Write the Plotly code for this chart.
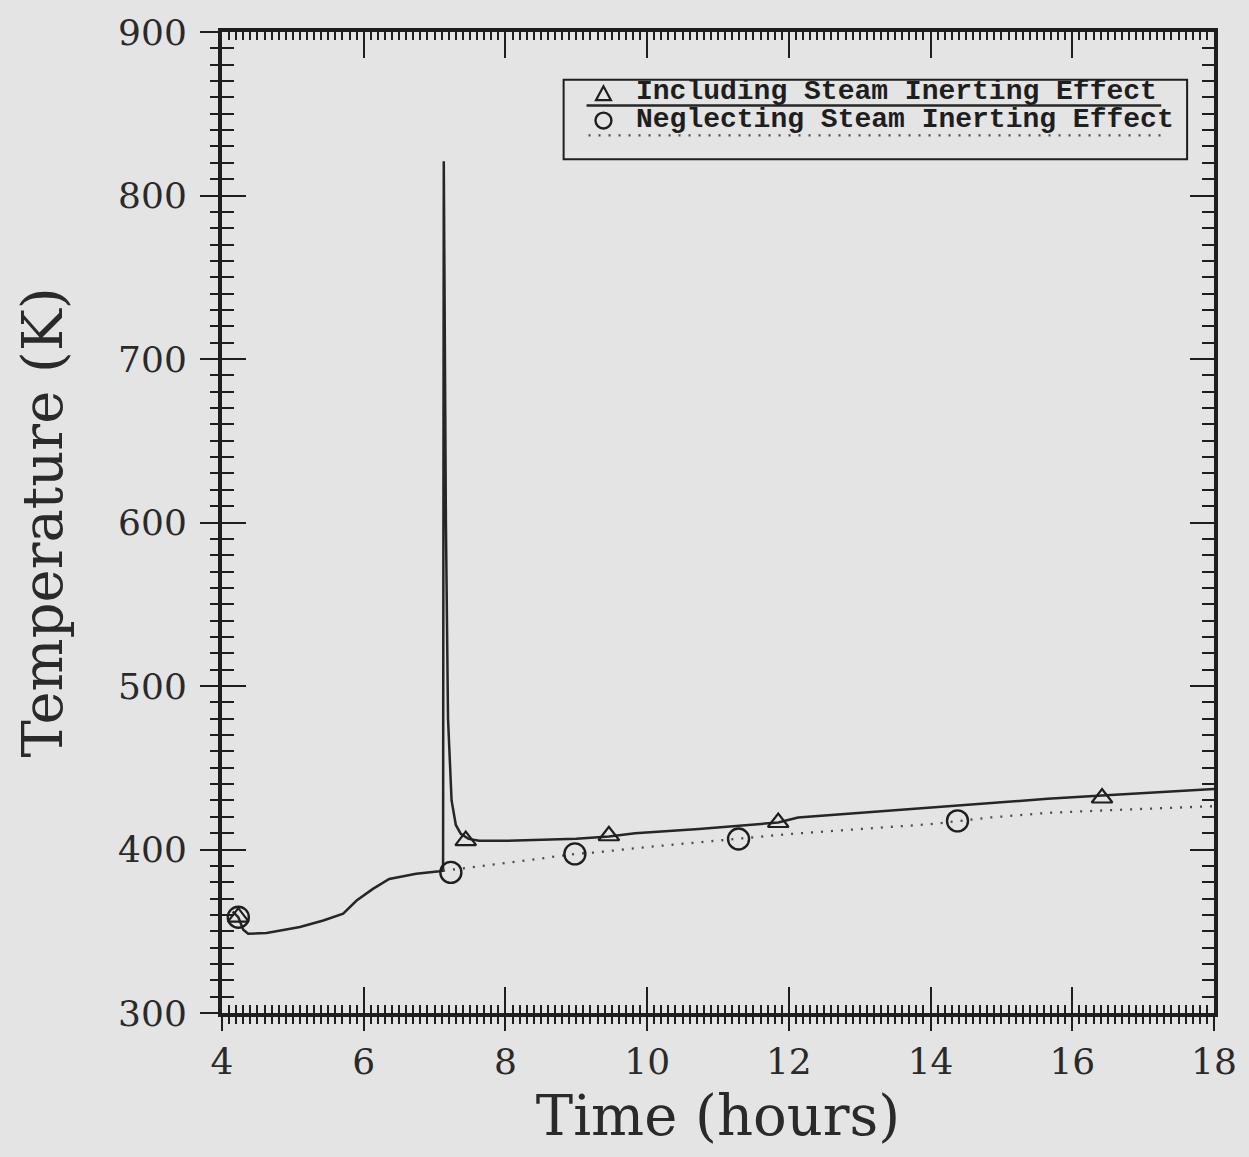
import plotly.graph_objects as go

# ---------------- data ----------------
incl_time = [4.15, 4.23, 4.30, 4.37, 4.63, 5.10, 5.43, 5.71, 5.90, 6.13, 6.36, 6.74, 7.07,
             7.12, 7.13, 7.16, 7.19, 7.24, 7.30, 7.37, 7.48, 7.63, 8.00, 8.50, 9.00, 9.46,
             9.83, 10.73, 11.50, 11.85, 12.13, 13.00, 14.00, 14.95, 15.65, 16.42, 17.20, 18.00]
incl_temp = [362.0, 358.6, 351.0, 348.5, 348.9, 352.6, 356.6, 360.7, 368.8, 375.9, 382.0, 385.1, 386.7,
             387.0, 821.0, 600.0, 480.0, 430.0, 415.0, 409.6, 406.5, 405.4, 405.3, 405.8, 406.5, 408.0,
             410.0, 412.5, 415.0, 416.5, 419.6, 422.5, 425.8, 428.7, 431.0, 433.0, 435.0, 437.0]

negl_time = [7.12, 7.50, 8.00, 8.50, 8.98, 9.27, 10.00, 10.73, 11.29, 11.99, 13.00, 14.00,
             14.85, 15.65, 16.50, 17.69, 18.00]
negl_temp = [387.0, 389.0, 392.0, 394.5, 397.3, 398.2, 401.5, 404.3, 406.4, 409.4, 412.5, 415.5,
             419.6, 422.4, 424.0, 426.0, 426.5]

incl_mark_time = [4.23, 7.44, 9.46, 11.85, 16.42]
incl_mark_temp = [358.6, 405.4, 408.4, 416.5, 431.5]
negl_mark_time = [4.23, 7.23, 8.98, 11.29, 14.38]
negl_mark_temp = [358.6, 386.0, 397.3, 406.4, 417.5]

x_range = [4, 18]
y_range = [300, 900]
x_ticks = [4, 6, 8, 10, 12, 14, 16, 18]
y_ticks = [300, 400, 500, 600, 700, 800, 900]

legend_labels = ["Including Steam Inerting Effect", "Neglecting Steam Inerting Effect"]

# ---------------- figure ----------------
BG = "#e4e4e4"
INK = "#1e1e1e"
SERIF = "DejaVu Serif"

fig = go.Figure()
fig.add_trace(go.Scatter(x=incl_time, y=incl_temp, mode="lines",
                         line=dict(color="#262626", width=2.5), showlegend=False, hoverinfo="skip"))
fig.add_trace(go.Scatter(x=negl_time, y=negl_temp, mode="lines",
                         line=dict(color="#4a4a4a", width=2.3, dash="2px,8px"),
                         showlegend=False, hoverinfo="skip"))
fig.add_trace(go.Scatter(x=incl_mark_time, y=incl_mark_temp, mode="markers",
                         marker=dict(symbol="triangle-up-open", size=18, color=INK,
                                     line=dict(width=2.2, color=INK)),
                         showlegend=False))
fig.add_trace(go.Scatter(x=negl_mark_time, y=negl_mark_temp, mode="markers",
                         marker=dict(symbol="circle-open", size=21, color=INK,
                                     line=dict(width=2.4, color=INK)),
                         showlegend=False))
# helper trace so the overlay axes (inside tick marks) are drawn
fig.add_trace(go.Scatter(x=[x_range[0]], y=[y_range[0]], xaxis="x2", yaxis="y2", mode="markers",
                         marker=dict(opacity=0), showlegend=False, hoverinfo="skip"))

tickfont = dict(family=SERIF, size=36, color="#2a2a2a")

fig.update_layout(
    width=1249, height=1157,
    margin=dict(l=222, r=31, t=27, b=144),
    paper_bgcolor=BG, plot_bgcolor=BG,
    showlegend=False,
    xaxis=dict(range=x_range, tickvals=x_ticks, ticks="outside", ticklen=14, tickwidth=2,
               tickcolor=INK, showline=True, linewidth=4, linecolor=INK, mirror=True,
               showgrid=False, zeroline=False, tickfont=tickfont, ticklabelstandoff=0,
               minor=dict(dtick=0.1, ticks="outside", ticklen=7, tickwidth=2, tickcolor=INK,
                          showgrid=False),
               title=dict(text="Time (hours)", font=dict(family=SERIF, size=56, color="#2a2a2a"),
                          standoff=16)),
    yaxis=dict(range=y_range, tickvals=y_ticks, ticks="outside", ticklen=18, tickwidth=2,
               tickcolor=INK, showline=True, linewidth=4, linecolor=INK, mirror=True,
               showgrid=False, zeroline=False, tickfont=tickfont, ticklabelstandoff=6,
               minor=dict(dtick=10, ticks="outside", ticklen=8, tickwidth=2, tickcolor=INK,
                          showgrid=False),
               title=dict(text="Temperature (K)", font=dict(family=SERIF, size=56, color="#2a2a2a"),
                          standoff=38)),
    xaxis2=dict(range=x_range, tickvals=x_ticks, overlaying="x", anchor="y2", side="bottom",
                ticks="inside", ticklen=26, tickwidth=2, tickcolor=INK, mirror="allticks",
                showline=False, showticklabels=False, showgrid=False, zeroline=False,
                minor=dict(dtick=0.1, ticks="inside", ticklen=8, tickwidth=2, tickcolor=INK,
                           showgrid=False)),
    yaxis2=dict(range=y_range, tickvals=y_ticks, overlaying="y", anchor="x2", side="left",
                ticks="inside", ticklen=24, tickwidth=2, tickcolor=INK, mirror="allticks",
                showline=False, showticklabels=False, showgrid=False, zeroline=False,
                minor=dict(dtick=10, ticks="inside", ticklen=12, tickwidth=2, tickcolor=INK,
                           showgrid=False)),
)

# ---------------- custom legend (paper coordinates) ----------------
def px_x(p):
    return (p - 222) / 996.0

def px_y(p):
    return (1013 - p) / 986.0

fig.add_shape(type="rect", xref="paper", yref="paper",
              x0=px_x(565), x1=px_x(1191), y0=px_y(155), y1=px_y(75),
              line=dict(color=INK, width=2), fillcolor=BG)
fig.add_shape(type="line", xref="paper", yref="paper",
              x0=px_x(588), x1=px_x(1165), y0=px_y(101), y1=px_y(101),
              line=dict(color="#262626", width=2.5))
fig.add_shape(type="line", xref="paper", yref="paper",
              x0=px_x(590), x1=px_x(1170), y0=px_y(131), y1=px_y(131),
              line=dict(color="#4a4a4a", width=2.3, dash="2px,8px"))

# legend symbols
tri_path = "M {:.5f},{:.5f} L {:.5f},{:.5f} L {:.5f},{:.5f} Z".format(
    px_x(597.5), px_y(95.5), px_x(612.5), px_y(95.5), px_x(605), px_y(81.5))
fig.add_shape(type="path", xref="paper", yref="paper", path=tri_path,
              line=dict(color=INK, width=2.2), fillcolor="rgba(0,0,0,0)")
fig.add_shape(type="circle", xref="paper", yref="paper",
              x0=px_x(597), x1=px_x(613), y0=px_y(124), y1=px_y(108),
              line=dict(color=INK, width=2.4), fillcolor="rgba(0,0,0,0)")

legend_font = dict(family="Liberation Mono", size=28, color=INK)
fig.add_annotation(xref="paper", yref="paper", x=px_x(636), y=px_y(87),
                   text="<b>" + legend_labels[0] + "</b>", showarrow=False, font=legend_font,
                   xanchor="left", yanchor="middle")
fig.add_annotation(xref="paper", yref="paper", x=px_x(636), y=px_y(115),
                   text="<b>" + legend_labels[1] + "</b>", showarrow=False, font=legend_font,
                   xanchor="left", yanchor="middle")

fig.write_html("out.html")
